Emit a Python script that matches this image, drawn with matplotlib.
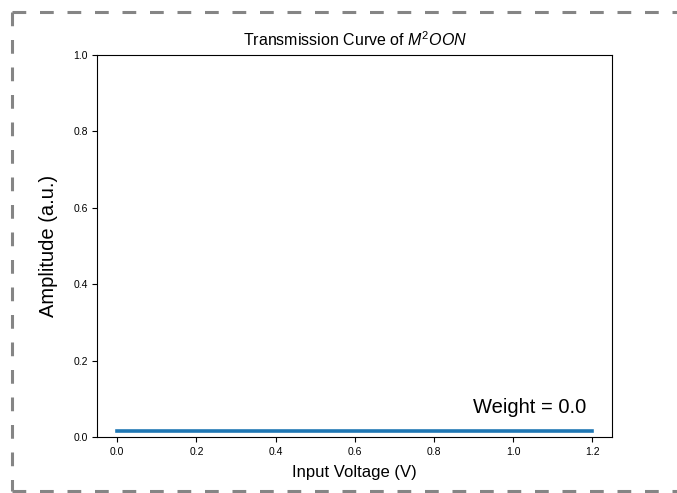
import matplotlib
matplotlib.use("Agg")
import matplotlib.pyplot as plt
from matplotlib.lines import Line2D

plt.rcParams["font.family"] = ["Liberation Sans", "DejaVu Sans"]
plt.rcParams["mathtext.fontset"] = "custom"
plt.rcParams["mathtext.it"] = "Liberation Sans:italic"
plt.rcParams["mathtext.rm"] = "Liberation Sans"

# data
voltage = [0.0, 0.2, 0.4, 0.6, 0.8, 1.0, 1.2]
amplitude = [0.015, 0.015, 0.015, 0.015, 0.015, 0.015, 0.015]
weight = 0.0
xticks = [0.0, 0.2, 0.4, 0.6, 0.8, 1.0, 1.2]
yticks = [0.0, 0.2, 0.4, 0.6, 0.8, 1.0]

fig = plt.figure(figsize=(6.77, 4.93), dpi=100)
ax = fig.add_axes([0.144, 0.1136, 0.760, 0.7754])

ax.plot(voltage, amplitude, color="#1f77b4", linewidth=2.6)

ax.set_xlim(-0.05, 1.25)
ax.set_ylim(0, 1)
ax.set_xticks(xticks)
ax.set_yticks(yticks)
ax.tick_params(labelsize=7.5)

ax.set_title("Transmission Curve of $M^2OON$", fontsize=11.5, pad=6)
ax.set_xlabel("Input Voltage (V)", fontsize=12, labelpad=6)
ax.set_ylabel("Amplitude (a.u.)", fontsize=14.5, labelpad=11)

ax.text(0.9, 0.076, "Weight = %.1f" % weight, fontsize=14.5, va="center", ha="left")

# dashed page border around the figure
border = dict(color="#858585", linewidth=2.2, dashes=(4.5, 4.5),
              transform=fig.transFigure, solid_capstyle="butt")
x0, x1 = 12 / 677, 1.0
y0, y1 = 1 - 491 / 493, 1 - 12 / 493
fig.add_artist(Line2D([x0, x1], [y1, y1], **border))
fig.add_artist(Line2D([x0, x0], [y1, y0], **border))
fig.add_artist(Line2D([x0, x1], [y0, y0], **border))

fig.savefig("out.png", dpi=100)
